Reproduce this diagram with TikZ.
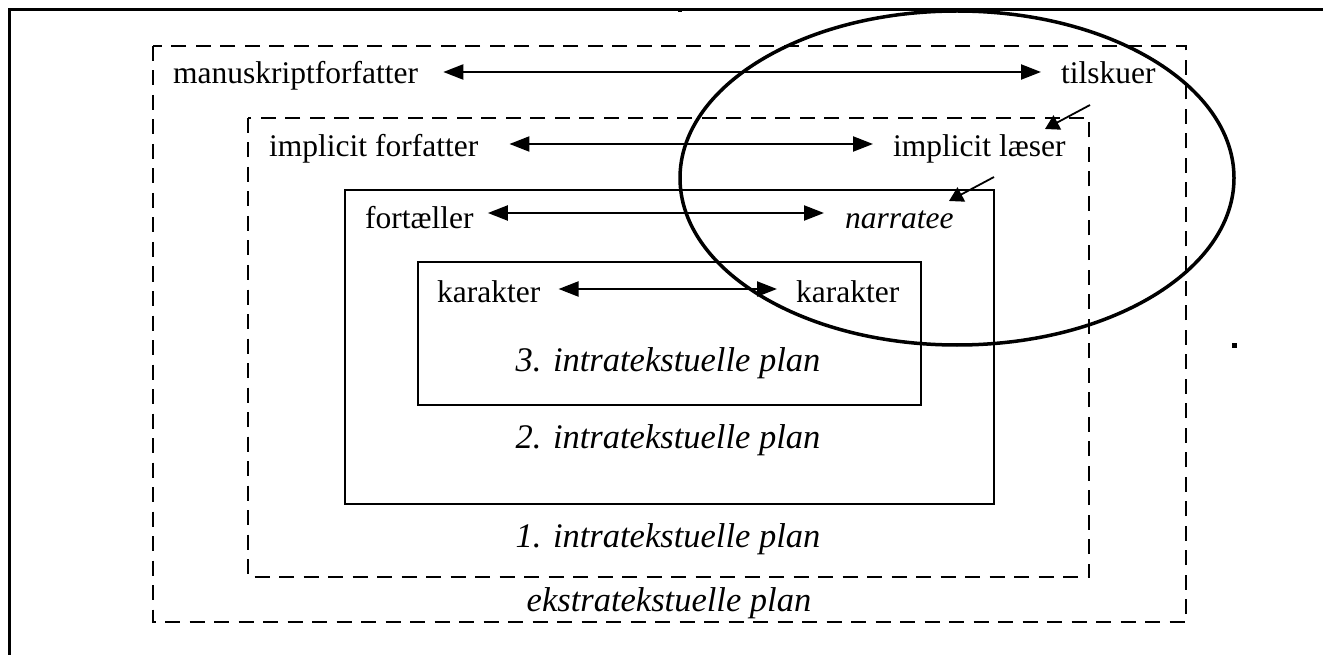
\documentclass[tikz,border=0pt]{standalone}
\usepackage{fontspec}
\setmainfont{Liberation Serif}
\usetikzlibrary{arrows.meta}
\begin{document}
\begin{tikzpicture}[x=1pt,y=-1pt,
  every node/.style={font=\fontsize{31.5}{38}\selectfont, inner sep=0pt},
  lbl/.style={anchor=base west},
  plan/.style={anchor=base, font=\fontsize{34.5}{40}\selectfont\itshape},
  dashbox/.style={line width=2.2pt, dash pattern=on 15pt off 9.5pt},
  solidbox/.style={line width=2.2pt},
  arr/.style={line width=2.2pt, {Triangle[length=20pt,width=15pt]}-{Triangle[length=20pt,width=15pt]}},
  pointer/.style={line width=1.8pt, -{Triangle[length=14pt,width=16pt]}}
]
\useasboundingbox (0,0) rectangle (1323,655);

% page frame (only top and left edges are visible)
\draw[line width=3pt] (9,655) -- (9,10) -- (1323,10);
\fill (678,8) rectangle (682,12);
\fill (1232,343) rectangle (1237,348);

% nested planes
\draw[dashbox] (153,46) rectangle (1186,622);
\draw[dashbox] (248,118) rectangle (1089,577);
\draw[solidbox] (345,190) rectangle (994,504);
\draw[solidbox] (418,262) rectangle (921,405);

% roles
\node[lbl] (mf) at (173,84) {manuskriptforfatter};
\node[lbl] (ts) at (1061,84) {tilskuer};
\node[lbl] (if) at (269,157) {implicit forfatter};
\node[lbl] (il) at (893,157) {implicit læser};
\node[lbl] (fo) at (365,229) {fortæller};
\node[lbl, font=\fontsize{31.5}{38}\selectfont\itshape] (na) at (845,229) {narratee};
\node[lbl] (k1) at (437,302) {karakter};
\node[lbl] (k2) at (796,302) {karakter};

% plan labels
\node[plan] (p3) at (668,371) {3. intratekstuelle plan};
\node[plan] (p2) at (668,448) {2. intratekstuelle plan};
\node[plan] (p1) at (668,547) {1. intratekstuelle plan};
\node[plan] (pe) at (669,611) {ekstratekstuelle plan};

% communication arrows
\draw[arr] ([xshift=25pt,yshift=12pt]mf.base east) -- ([xshift=-20pt,yshift=12pt]ts.base west);
\draw[arr] ([xshift=31pt,yshift=13pt]if.base east) -- ([xshift=-20pt,yshift=13pt]il.base west);
\draw[arr] ([xshift=14pt,yshift=16pt]fo.base east) -- ([xshift=-21pt,yshift=16pt]na.base west);
\draw[arr] ([xshift=18pt,yshift=13pt]k1.base east) -- ([xshift=-19pt,yshift=13pt]k2.base west);

% the reader's perspective
\draw[line width=3.5pt] (957,178) ellipse [x radius=277, y radius=167];
\coordinate (s1) at (1090,105);
\coordinate (t1) at (1045,129);
\coordinate (s2) at (994,177);
\coordinate (t2) at (949,201);
\draw[pointer] (s1) -- (t1);
\draw[pointer] (s2) -- (t2);
\end{tikzpicture}
\end{document}
